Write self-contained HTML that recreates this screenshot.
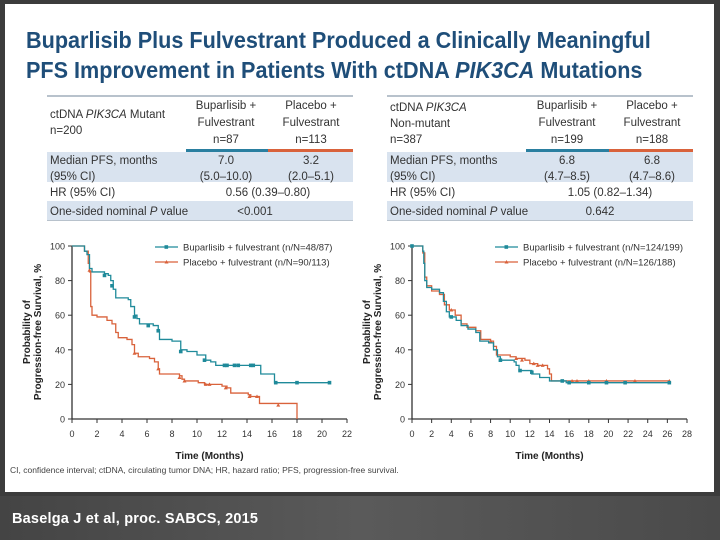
<!DOCTYPE html>
<html><head><meta charset="utf-8">
<style>
*{margin:0;padding:0;box-sizing:border-box}
body{width:720px;height:540px;background:#3c3c3c;position:relative;overflow:hidden;font-family:"Liberation Sans",sans-serif}
#panel{position:absolute;left:5px;top:4px;width:709px;height:488px;background:#fff}
#footer{position:absolute;left:0;top:496px;width:720px;height:44px;background:linear-gradient(90deg,#444,#5a5a5a 50%,#4a4a4a)}
#cite{position:absolute;left:12px;top:15px;color:#fff;font-size:14.5px;font-weight:bold;letter-spacing:0.2px}
.title{position:absolute;left:26px;color:#1f4e79;font-weight:bold;font-size:23px;transform-origin:0 0;transform:scaleX(0.94);white-space:nowrap}
</style></head><body>
<div id="panel"></div>
<div class="title" style="top:27px">Buparlisib Plus Fulvestrant Produced a Clinically Meaningful</div>
<div class="title" style="top:57px">PFS Improvement in Patients With ctDNA <i>PIK3CA</i> Mutations</div>
<div id="footer"><div id="cite">Baselga J et al, proc. SABCS, 2015</div></div>

<svg id="svg" width="720" height="540" style="position:absolute;left:0;top:0" font-family="Liberation Sans, sans-serif">
<g id="tables" fill="#333" font-size="11.5">
 <g>
  <rect x="47" y="95" width="306" height="2" fill="#b8c2cc"/>
  <rect x="47" y="152" width="306" height="30" fill="#d9e3ef"/>
  <rect x="47" y="201" width="306" height="19" fill="#d9e3ef"/>
  <rect x="47" y="220" width="306" height="1" fill="#b8c2cc"/>
  <rect x="186" y="149" width="82" height="3" fill="#2a7fa0"/>
  <rect x="268" y="149" width="85" height="3" fill="#d9623b"/>
  <text x="50" y="118">ctDNA <tspan font-style="italic">PIK3CA</tspan> Mutant</text>
  <text x="50" y="134">n=200</text>
  <g text-anchor="middle">
   <text x="226" y="109">Buparlisib +</text><text x="226" y="126">Fulvestrant</text><text x="226" y="143">n=87</text>
   <text x="311" y="109">Placebo +</text><text x="311" y="126">Fulvestrant</text><text x="311" y="143">n=113</text>
   <text x="226" y="164">7.0</text><text x="226" y="180">(5.0–10.0)</text>
   <text x="311" y="164">3.2</text><text x="311" y="180">(2.0–5.1)</text>
   <text x="268" y="196">0.56 (0.39–0.80)</text>
   <text x="255" y="215">&lt;0.001</text>
  </g>
  <text x="50" y="164">Median PFS, months</text><text x="50" y="180">(95% CI)</text>
  <text x="50" y="196">HR (95% CI)</text>
  <text x="50" y="215">One-sided nominal <tspan font-style="italic">P</tspan> value</text>
 </g>
 <g>
  <rect x="387" y="95" width="306" height="2" fill="#b8c2cc"/>
  <rect x="387" y="152" width="306" height="30" fill="#d9e3ef"/>
  <rect x="387" y="201" width="306" height="19" fill="#d9e3ef"/>
  <rect x="387" y="220" width="306" height="1" fill="#b8c2cc"/>
  <rect x="526" y="149" width="83" height="3" fill="#2a7fa0"/>
  <rect x="609" y="149" width="84" height="3" fill="#d9623b"/>
  <text x="390" y="111">ctDNA <tspan font-style="italic">PIK3CA</tspan></text>
  <text x="390" y="127">Non-mutant</text>
  <text x="390" y="143">n=387</text>
  <g text-anchor="middle">
   <text x="567" y="109">Buparlisib +</text><text x="567" y="126">Fulvestrant</text><text x="567" y="143">n=199</text>
   <text x="652" y="109">Placebo +</text><text x="652" y="126">Fulvestrant</text><text x="652" y="143">n=188</text>
   <text x="567" y="164">6.8</text><text x="567" y="180">(4.7–8.5)</text>
   <text x="652" y="164">6.8</text><text x="652" y="180">(4.7–8.6)</text>
   <text x="610" y="196">1.05 (0.82–1.34)</text>
   <text x="600" y="215">0.642</text>
  </g>
  <text x="390" y="164">Median PFS, months</text><text x="390" y="180">(95% CI)</text>
  <text x="390" y="196">HR (95% CI)</text>
  <text x="390" y="215">One-sided nominal <tspan font-style="italic">P</tspan> value</text>
 </g>
</g>
<text x="10" y="473" font-size="8.5" fill="#444">CI, confidence interval; ctDNA, circulating tumor DNA; HR, hazard ratio; PFS, progression-free survival.</text>
</svg>

<script>
// Left chart data (ctDNA PIK3CA mutant)
const leftBuparT = [0,1.0,1.2,1.4,1.6,2.6,2.9,3.1,3.3,3.5,4.5,4.7,5.0,5.2,5.4,6.5,6.9,7.0,8.0,8.7,9.2,10.0,10.7,11.1,11.5,15.1,16.2,20.6];
const leftBuparS = [100,97,95,87,85,84,83,80,75,70,69,65,60,58,55,54,51,46,45,40,39,37,34,33,31,26,21,21];
const leftBuparCens = [[2.6,83],[3.2,77],[5.0,59],[6.1,54],[6.9,51],[8.7,39],[10.6,34],[12.2,31],[12.4,31],[13.0,31],[13.3,31],[14.3,31],[14.5,31],[16.3,21],[18,21],[20.6,21]];
const leftPlacT = [0,1.0,1.3,1.4,1.5,1.6,2.0,2.8,3.2,3.5,3.7,4.4,4.8,5.0,5.3,6.2,6.6,6.9,7.0,8.6,8.8,9.0,10.1,10.6,12.0,12.4,12.7,14.1,14.3,15.0,18.0];
const leftPlacS = [100,97,90,85,65,60,59,57,55,50,47,46,43,38,36,35,33,29,26,25,23,22,21,20,19,18,15,14,13,9,0];
const leftPlacCens = [[1.4,86],[5.0,38],[6.9,29],[8.6,24],[9.0,22],[10.7,20],[11.0,20],[12.3,18],[14.2,13],[14.8,13],[16.5,8]];
const leftXTicks = [0,2,4,6,8,10,12,14,16,18,20,22];
// Right chart data (non-mutant)
const rightBuparT = [0,0.8,1.1,1.2,1.3,1.5,2.0,2.8,3.2,3.5,3.8,4.5,5.0,5.7,6.5,6.9,7.8,8.3,8.7,9.0,10.4,10.6,10.9,12.2,13.0,14.0,15.7,26.2];
const rightBuparS = [100,100,97,90,80,76,75,73,68,62,59,57,54,52,50,45,44,40,36,34,33,31,28,26,24,22,21,21];
const rightBuparCens = [[0,100],[4,59],[9,34],[11,28],[12.2,27],[15.3,22],[16,21],[18,21],[19.8,21],[21.7,21],[26.2,21]];
const rightPlacT = [0,0.8,1.1,1.3,1.5,2.0,2.8,3.3,3.8,4.4,5.0,5.6,6.5,7.0,8.0,8.3,8.6,10.0,10.6,11.5,12.0,12.8,13.8,14.0,14.2,26.2];
const rightPlacS = [100,100,96,82,77,74,72,66,63,60,55,53,51,46,45,42,37,36,35,34,32,31,29,26,22,22];
const rightPlacCens = [[4,63],[8,45],[10.6,35],[11.2,34],[12.4,32],[12.8,31],[13.3,31],[16.3,22],[16.8,22],[18,22],[19.8,22],[22.7,22],[26.2,22]];
const rightXTicks = [0,2,4,6,8,10,12,14,16,18,20,22,24,26,28];
const yTicks = [0,20,40,60,80,100];

const NS='http://www.w3.org/2000/svg';
const svg=document.getElementById('svg');
function mk(tag,attrs,parent){const e=document.createElementNS(NS,tag);for(const k in attrs)e.setAttribute(k,attrs[k]);(parent||svg).appendChild(e);return e;}
const BLUE='#1f8a9a', ORANGE='#d9623b';

function chart(name,x0,xmax,xTicks,series,legend){
  const y0=419,yTop=246,xEnd=x0+275;
  const sx=t=>x0+t*(xEnd-x0)/xmax;
  const sy=v=>y0-v*(y0-yTop)/100;
  const g=mk('g',{});
  
  
  mk('line',{x1:x0,y1:y0,x2:x0,y2:yTop,stroke:'#333','stroke-width':1.3},g);
  mk('line',{x1:x0,y1:y0,x2:xEnd,y2:y0,stroke:'#333','stroke-width':1.3},g);
  yTicks.forEach(v=>{
    mk('line',{x1:x0-4,y1:sy(v),x2:x0,y2:sy(v),stroke:'#333'},g);
    const t=mk('text',{x:x0-7,y:sy(v)+3.5,'text-anchor':'end','font-size':9,fill:'#333'},g);t.textContent=v;
    
    
  });
  xTicks.forEach(v=>{
    mk('line',{x1:sx(v),y1:y0,x2:sx(v),y2:y0+4,stroke:'#333'},g);
    const t=mk('text',{x:sx(v),y:y0+18,'text-anchor':'middle','font-size':9,fill:'#333'},g);t.textContent=v;
    
    
  });
  const xt=mk('text',{x:(x0+xEnd)/2,y:459,'text-anchor':'middle','font-size':10,'font-weight':'bold',fill:'#222'},g);
  xt.textContent='Time (Months)';
  
  
  const yt=mk('text',{transform:`translate(${x0-42},332) rotate(-90)`,'text-anchor':'middle','font-size':10,'font-weight':'bold',fill:'#222'},g);
  
  
  const s1=mk('tspan',{x:0,dy:0},yt);s1.textContent='Probability of';
  const s2=mk('tspan',{x:0,dy:11},yt);s2.textContent='Progression-free Survival, %';
  series.forEach(s=>{
    let d=`M${sx(s.t[0])},${sy(s.s[0])}`;
    for(let i=1;i<s.t.length;i++){d+=`H${sx(s.t[i])}V${sy(s.s[i])}`;}
    const p=mk('path',{d,fill:'none',stroke:s.c,'stroke-width':1.3},g);
    
    
    s.cens.forEach(([t,v])=>{
      const m=s.sq?mk('rect',{x:sx(t)-1.8,y:sy(v)-1.8,width:3.6,height:3.6,fill:s.c},g):mk('path',{d:`M${sx(t)-2},${sy(v)+1.5}L${sx(t)},${sy(v)-2}L${sx(t)+2},${sy(v)+1.5}Z`,fill:s.c},g);
      
      
    });
  });
  legend.forEach((l,i)=>{
    const y=247+i*15, lx=x0+83;
    const lg=mk('g',{},g);
    
    
    mk('line',{x1:lx,y1:y,x2:lx+23,y2:y,stroke:l.c,'stroke-width':1.3},lg);
    if(i==0) mk('rect',{x:lx+9.5,y:y-1.8,width:3.6,height:3.6,fill:l.c},lg);
    else mk('path',{d:`M${lx+9.5},${y+1.5}L${lx+11.5},${y-2}L${lx+13.5},${y+1.5}Z`,fill:l.c},lg);
    const t=mk('text',{x:lx+28,y:y+3.5,'font-size':9.5,fill:'#333'},lg);t.textContent=l.txt;
  });
}
chart('mutant-km-chart',72,22,leftXTicks,[
  {n:'placebo',t:leftPlacT,s:leftPlacS,cens:leftPlacCens,c:ORANGE,sq:false},
  {n:'buparlisib',t:leftBuparT,s:leftBuparS,cens:leftBuparCens,c:BLUE,sq:true}],
  [{c:BLUE,txt:'Buparlisib + fulvestrant (n/N=48/87)'},{c:ORANGE,txt:'Placebo + fulvestrant (n/N=90/113)'}]);
chart('non-mutant-km-chart',412,28,rightXTicks,[
  {n:'placebo',t:rightPlacT,s:rightPlacS,cens:rightPlacCens,c:ORANGE,sq:false},
  {n:'buparlisib',t:rightBuparT,s:rightBuparS,cens:rightBuparCens,c:BLUE,sq:true}],
  [{c:BLUE,txt:'Buparlisib + fulvestrant (n/N=124/199)'},{c:ORANGE,txt:'Placebo + fulvestrant (n/N=126/188)'}]);
</script>
</body></html>
